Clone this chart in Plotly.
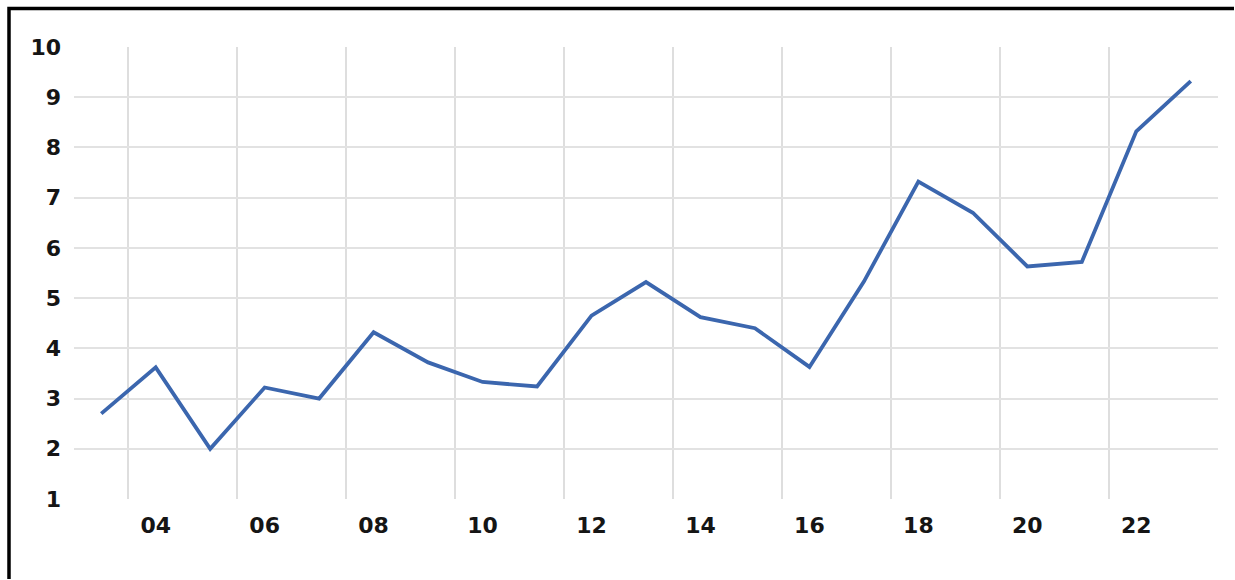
import plotly.graph_objects as go

years = list(range(2003, 2024))
values = [2.7, 3.62, 2.0, 3.22, 3.0, 4.32, 3.72, 3.33, 3.24, 4.65, 5.32,
          4.62, 4.4, 3.63, 5.33, 7.32, 6.7, 5.63, 5.72, 8.32, 9.32]
x_tick_years = [2004, 2006, 2008, 2010, 2012, 2014, 2016, 2018, 2020, 2022]
x_tick_labels = ["04", "06", "08", "10", "12", "14", "16", "18", "20", "22"]
x_grid_positions = [2003.5, 2005.5, 2007.5, 2009.5, 2011.5, 2013.5, 2015.5, 2017.5, 2019.5, 2021.5]
y_ticks = [1, 2, 3, 4, 5, 6, 7, 8, 9, 10]
y_grid_positions = [2, 3, 4, 5, 6, 7, 8, 9]

W, H = 1235, 580
L, R, T, B = 74, 17, 47, 81
pw, ph = W - L - R, H - T - B

fig = go.Figure()
fig.add_trace(go.Scatter(
    x=years, y=values, mode="lines",
    line=dict(color="#3b66ae", width=3.8),
    showlegend=False, hoverinfo="skip",
))

font = dict(family="DejaVu Sans", size=22, color="#151515", weight="bold")

fig.update_layout(
    width=W, height=H,
    margin=dict(l=L, r=R, t=T, b=B, pad=0),
    paper_bgcolor="white", plot_bgcolor="white",
    xaxis=dict(
        range=[2002.5, 2023.5], tickvals=x_tick_years, ticktext=x_tick_labels,
        showgrid=False, zeroline=False, showline=False, ticks="",
        tickfont=font, ticklabelstandoff=11,
        minor=dict(tickvals=x_grid_positions, showgrid=True,
                   gridcolor="#dedede", gridwidth=1.8, ticks=""),
        fixedrange=True,
    ),
    yaxis=dict(
        range=[1, 10], tickvals=y_ticks, showgrid=False, zeroline=False,
        showline=False, ticks="", tickfont=font, ticklabelstandoff=12,
        minor=dict(tickvals=y_grid_positions, showgrid=True,
                   gridcolor="#e2e2e2", gridwidth=1.8, ticks=""),
        fixedrange=True,
    ),
)

# black frame: left edge and top edge as one open path
def px_x(p):
    return (p - L) / pw

def px_y(p):
    return (H - B - p) / ph

path = "M {:.5f},{:.5f} L {:.5f},{:.5f} L {:.5f},{:.5f}".format(
    px_x(9), px_y(H - 1), px_x(9), px_y(8.5), px_x(W - 1), px_y(8.5))
fig.add_shape(type="path", xref="paper", yref="paper", path=path,
              line=dict(color="black", width=3.5),
              fillcolor="rgba(0,0,0,0)", layer="above")

fig.write_html(
    "out.html",
    config={"displayModeBar": False},
    post_script="document.body.style.margin='0';document.body.style.overflow='hidden';",
)
